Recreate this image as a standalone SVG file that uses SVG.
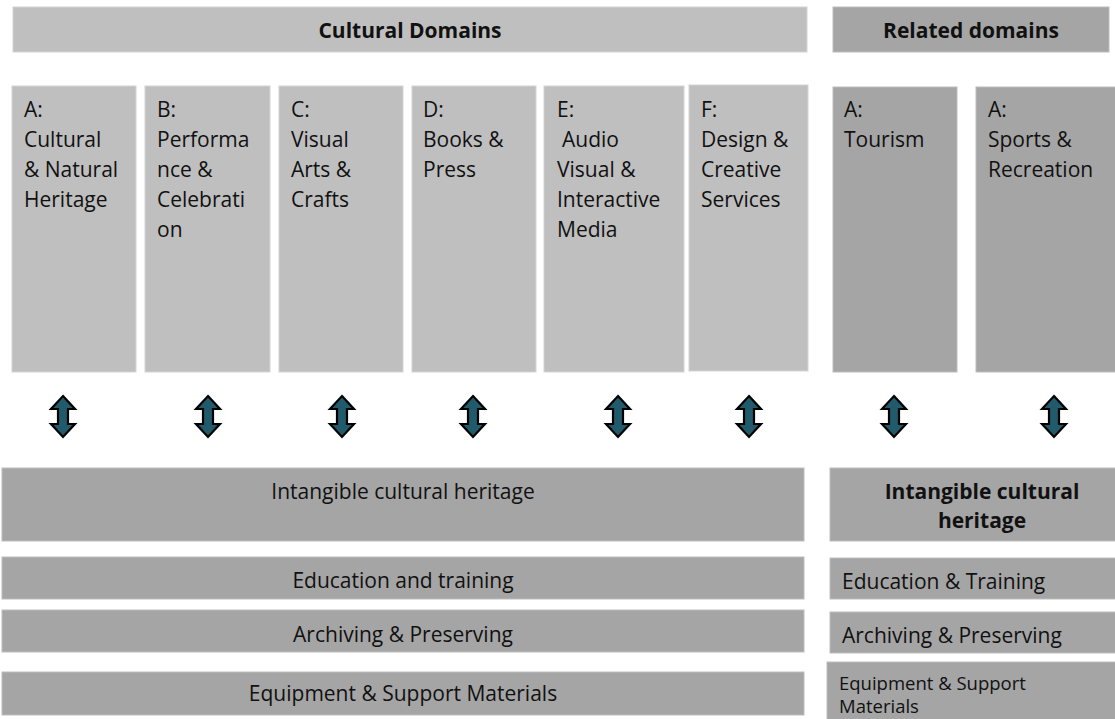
<svg xmlns="http://www.w3.org/2000/svg" width="1115" height="719" viewBox="0 0 1115 719">
<style>
.lt{fill:#BFBFBF;stroke:#D4D4D4;stroke-width:1}
.dk{fill:#A5A5A5;stroke:#BDBDBD;stroke-width:1}
text{font-family:"Open Sans","Liberation Sans",sans-serif;fill:#111;font-size:21px}
.b{font-weight:bold}
.c{text-anchor:middle}
.s{font-size:18.5px}
.arr{fill:#215A6A;stroke:#000;stroke-width:2.2;stroke-linejoin:miter}
</style>
<defs>
<path id="dbl" class="arr" d="M0,0 L12,13 L5,13 L5,28 L12,28 L0,41 L-12,28 L-5,28 L-5,13 L-12,13 Z"/>
</defs>
<rect width="1115" height="719" fill="#fff"/>

<g id="cultural-domains">
<rect class="lt" x="13" y="7" width="794" height="45"/>
<text class="b c" x="410" y="38">Cultural Domains</text>
</g>
<g id="related-domains">
<rect class="dk" x="833" y="7" width="276" height="45"/>
<text class="b c" x="971" y="38">Related domains</text>
</g>

<g id="box-a">
<rect class="lt" x="12" y="86" width="124" height="286"/>
<text x="24" y="117">A:<tspan x="24" y="147">Cultural</tspan><tspan x="24" y="177">&amp; Natural</tspan><tspan x="24" y="207">Heritage</tspan></text>
</g>
<g id="box-b">
<rect class="lt" x="145" y="86" width="125" height="286"/>
<text x="157" y="117">B:<tspan x="157" y="147">Performa</tspan><tspan x="157" y="177">nce &amp;</tspan><tspan x="157" y="207">Celebrati</tspan><tspan x="157" y="237">on</tspan></text>
</g>
<g id="box-c">
<rect class="lt" x="279" y="86" width="124" height="286"/>
<text x="291" y="117">C:<tspan x="291" y="147">Visual</tspan><tspan x="291" y="177">Arts &amp;</tspan><tspan x="291" y="207">Crafts</tspan></text>
</g>
<g id="box-d">
<rect class="lt" x="412" y="86" width="124" height="286"/>
<text x="423" y="117">D:<tspan x="423" y="147">Books &amp;</tspan><tspan x="423" y="177">Press</tspan></text>
</g>
<g id="box-e">
<rect class="lt" x="544" y="86" width="140" height="286"/>
<text x="557" y="117">E:<tspan x="562" y="147">Audio</tspan><tspan x="557" y="177">Visual &amp;</tspan><tspan x="557" y="207">Interactive</tspan><tspan x="557" y="237">Media</tspan></text>
</g>
<g id="box-f">
<rect class="lt" x="689" y="85" width="119" height="286"/>
<text x="701" y="117">F:<tspan x="701" y="147">Design &amp;</tspan><tspan x="701" y="177">Creative</tspan><tspan x="701" y="207">Services</tspan></text>
</g>
<g id="box-tourism">
<rect class="dk" x="833" y="87" width="124" height="285"/>
<text x="844" y="117">A:<tspan x="844" y="147">Tourism</tspan></text>
</g>
<g id="box-sports">
<rect class="dk" x="976" y="87" width="145" height="285"/>
<text x="988" y="117">A:<tspan x="988" y="147">Sports &amp;</tspan><tspan x="988" y="177">Recreation</tspan></text>
</g>

<g id="connectors">
<use href="#dbl" x="63" y="396"/>
<use href="#dbl" x="208" y="396"/>
<use href="#dbl" x="342" y="396"/>
<use href="#dbl" x="473" y="396"/>
<use href="#dbl" x="618" y="396"/>
<use href="#dbl" x="749" y="396"/>
<use href="#dbl" x="894" y="396"/>
<use href="#dbl" x="1054" y="396"/>
</g>

<g id="ich-left">
<rect class="dk" x="2" y="468" width="802" height="73"/>
<text class="c" x="403" y="499">Intangible cultural heritage</text>
</g>
<g id="edu-left">
<rect class="dk" x="2" y="557" width="802" height="42"/>
<text class="c" x="403" y="588">Education and training</text>
</g>
<g id="arch-left">
<rect class="dk" x="2" y="610" width="802" height="42"/>
<text class="c" x="403" y="642">Archiving &amp; Preserving</text>
</g>
<g id="equip-left">
<rect class="dk" x="2" y="672" width="802" height="43"/>
<text class="c" x="403" y="701">Equipment &amp; Support Materials</text>
</g>

<g id="ich-right">
<rect class="dk" x="830" y="468" width="290" height="73"/>
<text class="b c" x="982" y="499">Intangible cultural<tspan x="982" y="528">heritage</tspan></text>
</g>
<g id="edu-right">
<rect class="dk" x="830" y="558" width="290" height="41"/>
<text x="842" y="589">Education &amp; Training</text>
</g>
<g id="arch-right">
<rect class="dk" x="830" y="612" width="290" height="41"/>
<text x="842" y="643">Archiving &amp; Preserving</text>
</g>
<g id="equip-right">
<rect class="dk" x="827" y="662" width="293" height="60"/>
<text class="s" x="839" y="690">Equipment &amp; Support<tspan x="839" y="713">Materials</tspan></text>
</g>
</svg>
